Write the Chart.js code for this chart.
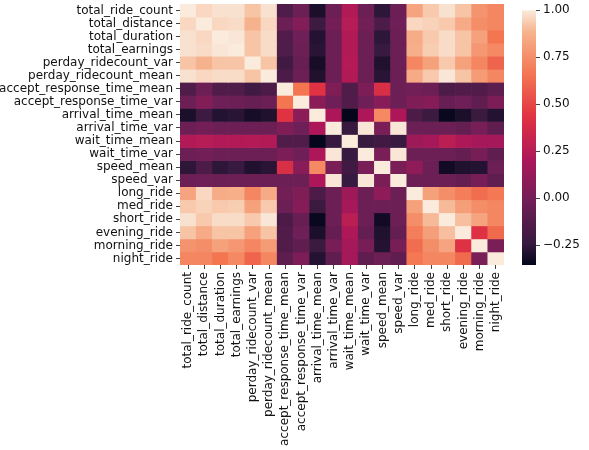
<!DOCTYPE html>
<html><head><meta charset="utf-8">
<script src="https://cdn.jsdelivr.net/npm/chart.js@4.4.0/dist/chart.umd.min.js"></script>
<style>
html,body{margin:0;padding:0;background:#fff;}
#wrap{position:relative;width:589px;height:450px;overflow:hidden;}
</style></head><body>
<div id="wrap">
<div style="position:absolute;left:0;top:0;width:505px;height:450px"><canvas id="heat"></canvas></div>
<div style="position:absolute;left:505px;top:0;width:84px;height:450px"><canvas id="cbar"></canvas></div>
</div>
<script>
const labels = ["total_ride_count","total_distance","total_duration","total_earnings","perday_ridecount_var","perday_ridecount_mean","accept_response_time_mean","accept_response_time_var","arrival_time_mean","arrival_time_var","wait_time_mean","wait_time_var","speed_mean","speed_var","long_ride","med_ride","short_ride","evening_ride","morning_ride","night_ride"];

const r_total_ride_count      = [1, 0.96, 0.98, 0.98, 0.92, 0.98, -0.14, -0.03, -0.30, -0.03, 0.23, -0.03, -0.26, -0.03, 0.83, 0.93, 0.98, 0.92, 0.77, 0.72];
const r_total_distance        = [0.96, 1, 0.96, 0.97, 0.88, 0.96, -0.03, 0.05, -0.21, 0.00, 0.25, -0.01, -0.15, -0.02, 0.96, 0.95, 0.93, 0.85, 0.75, 0.72];
const r_total_duration        = [0.98, 0.96, 1, 0.99, 0.92, 0.97, -0.13, -0.02, -0.28, -0.03, 0.23, -0.03, -0.26, -0.03, 0.86, 0.93, 0.97, 0.92, 0.82, 0.66];
const r_total_earnings        = [0.98, 0.97, 0.99, 1, 0.92, 0.97, -0.14, -0.03, -0.27, -0.03, 0.23, -0.03, -0.23, -0.03, 0.87, 0.94, 0.97, 0.92, 0.78, 0.73];
const r_perday_ridecount_var  = [0.92, 0.88, 0.92, 0.92, 1, 0.92, -0.20, -0.05, -0.31, -0.03, 0.24, -0.03, -0.29, -0.03, 0.72, 0.82, 0.93, 0.82, 0.72, 0.60];
const r_perday_ridecount_mean = [0.98, 0.96, 0.97, 0.97, 0.92, 1, -0.15, -0.03, -0.29, -0.03, 0.23, -0.03, -0.27, -0.03, 0.85, 0.93, 0.99, 0.92, 0.80, 0.72];
const r_accept_time_mean      = [-0.14, -0.03, -0.13, -0.14, -0.20, -0.15, 1, 0.66, 0.43, 0.04, -0.14, 0.03, 0.40, -0.03, -0.01, -0.03, -0.15, -0.13, -0.13, -0.09];
const r_accept_time_var       = [-0.03, 0.05, -0.02, -0.03, -0.05, -0.03, 0.66, 1, 0.08, -0.02, -0.13, -0.02, 0.07, -0.03, 0.04, 0.06, -0.05, -0.02, -0.08, 0.03];
const r_arrival_time_mean     = [-0.30, -0.21, -0.28, -0.27, -0.31, -0.29, 0.43, 0.08, 1, 0.21, -0.35, 0.21, 0.73, 0.21, -0.15, -0.22, -0.34, -0.30, -0.22, -0.28];
const r_arrival_time_var      = [-0.03, 0.00, -0.03, -0.03, -0.03, -0.03, 0.04, -0.02, 0.21, 1, -0.23, 0.99, 0.02, 0.99, -0.03, -0.03, -0.03, -0.06, 0.01, -0.08];
const r_wait_time_mean        = [0.23, 0.25, 0.23, 0.23, 0.24, 0.23, -0.14, -0.13, -0.35, -0.23, 1, -0.23, -0.20, -0.23, 0.15, 0.18, 0.27, 0.22, 0.18, 0.18];
const r_wait_time_var         = [-0.03, -0.01, -0.03, -0.03, -0.03, -0.03, 0.03, -0.02, 0.21, 0.99, -0.23, 1, 0.02, 0.99, -0.03, -0.03, -0.03, -0.06, 0.01, -0.08];
const r_speed_mean            = [-0.26, -0.15, -0.26, -0.23, -0.29, -0.27, 0.40, 0.07, 0.73, 0.02, -0.20, 0.02, 1, 0.02, 0.10, -0.03, -0.32, -0.29, -0.28, -0.03];
const r_speed_var             = [-0.03, -0.02, -0.03, -0.03, -0.03, -0.03, -0.03, -0.03, 0.21, 0.99, -0.23, 0.99, 0.02, 1, -0.03, -0.03, -0.03, -0.06, 0.01, -0.08];
const r_long_ride             = [0.83, 0.96, 0.86, 0.87, 0.72, 0.85, -0.01, 0.04, -0.15, -0.03, 0.15, -0.03, 0.10, -0.03, 1, 0.82, 0.75, 0.69, 0.63, 0.67];
const r_med_ride              = [0.93, 0.95, 0.93, 0.94, 0.82, 0.93, -0.03, 0.06, -0.22, -0.03, 0.18, -0.03, -0.03, -0.03, 0.82, 1, 0.90, 0.81, 0.75, 0.72];
const r_short_ride            = [0.98, 0.93, 0.97, 0.97, 0.93, 0.99, -0.15, -0.05, -0.34, -0.03, 0.27, -0.03, -0.32, -0.03, 0.75, 0.90, 1, 0.91, 0.83, 0.72];
const r_evening_ride          = [0.92, 0.85, 0.92, 0.92, 0.82, 0.92, -0.13, -0.02, -0.30, -0.06, 0.22, -0.06, -0.29, -0.06, 0.69, 0.81, 0.91, 1, 0.42, 0.62];
const r_morning_ride          = [0.77, 0.75, 0.82, 0.78, 0.72, 0.80, -0.13, -0.08, -0.22, 0.01, 0.18, 0.01, -0.28, 0.01, 0.63, 0.75, 0.83, 0.42, 1, 0.02];
const r_night_ride            = [0.72, 0.72, 0.66, 0.73, 0.60, 0.72, -0.09, 0.03, -0.28, -0.08, 0.18, -0.08, -0.03, -0.08, 0.67, 0.72, 0.72, 0.62, 0.02, 1];

const rows = [r_total_ride_count, r_total_distance, r_total_duration, r_total_earnings, r_perday_ridecount_var, r_perday_ridecount_mean, r_accept_time_mean, r_accept_time_var, r_arrival_time_mean, r_arrival_time_var, r_wait_time_mean, r_wait_time_var, r_speed_mean, r_speed_var, r_long_ride, r_med_ride, r_short_ride, r_evening_ride, r_morning_ride, r_night_ride];

const vmin = -0.355, vmax = 1.0;
const cbTicks = [-0.25, 0, 0.25, 0.5, 0.75, 1.0];

// seaborn "rocket" colormap stops
const rocketStops = [
  [0.0, [3,5,26]], [0.083, [53,25,62]], [0.25, [112,31,87]], [0.417, [173,23,89]],
  [0.583, [225,51,66]], [0.75, [243,118,81]], [0.917, [246,180,143]], [1.0, [250,235,221]]
];
function rocket(t) {
  t = Math.max(0, Math.min(1, t));
  for (let k = 1; k < rocketStops.length; k++) {
    const [t1, c1] = rocketStops[k];
    const [t0, c0] = rocketStops[k-1];
    if (t <= t1) {
      const f = (t - t0) / (t1 - t0);
      const c = c0.map((x, i) => Math.round(x + (c1[i] - x) * f));
      return `rgb(${c[0]},${c[1]},${c[2]})`;
    }
  }
  return 'rgb(250,235,221)';
}
const colorOf = v => rocket((v - vmin) / (vmax - vmin));

const FONTSTR = "12px 'DejaVu Sans', sans-serif";
const FONT = {family: "'DejaVu Sans', sans-serif", size: 12};
const TXT = '#111';
const TICKC = '#444';
const TICKLEN = 4;

// draws the category names next to the library's tick positions
const axisLabels = {
  id: 'axisLabels',
  afterDraw(chart) {
    const {ctx} = chart;
    const x = chart.scales.x, y = chart.scales.y;
    ctx.save();
    ctx.font = FONTSTR;
    ctx.fillStyle = TXT;
    ctx.textBaseline = 'middle';
    ctx.textAlign = 'right';
    y.ticks.forEach((t, i) => {
      ctx.fillText(labels[i], y.right - TICKLEN - 3, y.getPixelForValue(t.value));
    });
    labels.forEach((lab, i) => {
      const px = x.getPixelForTick(i);
      ctx.save();
      ctx.translate(px, x.top + TICKLEN + 3);
      ctx.rotate(-Math.PI / 2);
      ctx.textAlign = 'right';
      ctx.fillText(lab, 0, 0);
      ctx.restore();
    });
    ctx.restore();
  }
};

const datasets = rows.map((row, i) => ({
  label: labels[i],
  data: row.map(() => 1),
  backgroundColor: row.map(colorOf),
  borderWidth: 0,
  barPercentage: 1,
  categoryPercentage: 1
}));

new Chart(document.getElementById('heat'), {
  type: 'bar',
  data: {labels: labels, datasets: datasets},
  plugins: [axisLabels],
  options: {
    animation: false,
    responsive: true,
    maintainAspectRatio: false,
    layout: {padding: {top: 4, right: 1, left: 0, bottom: 0}},
    plugins: {legend: {display: false}, tooltip: {enabled: false}},
    scales: {
      x: {
        stacked: true,
        grid: {drawOnChartArea: false, drawTicks: true, tickLength: TICKLEN, offset: false, color: TICKC},
        border: {display: false},
        ticks: {display: false, autoSkip: false},
        afterFit: s => { s.height = 185; }
      },
      y: {
        stacked: true,
        min: 0, max: labels.length,
        reverse: true,
        afterBuildTicks: s => { s.ticks = labels.map((_, i) => ({value: i + 0.5})); },
        ticks: {display: false, autoSkip: false},
        grid: {drawOnChartArea: false, drawTicks: true, tickLength: TICKLEN, color: TICKC},
        border: {display: false},
        afterFit: s => { s.width = 180; }
      }
    }
  }
});

new Chart(document.getElementById('cbar'), {
  type: 'bar',
  data: {labels: [''], datasets: [{
    data: [[vmin, vmax]],
    borderWidth: 0,
    barPercentage: 1,
    categoryPercentage: 1,
    backgroundColor: ctx => {
      const area = ctx.chart.chartArea;
      if (!area) return '#000';
      const g = ctx.chart.ctx.createLinearGradient(0, area.bottom, 0, area.top);
      rocketStops.forEach(([t, c]) => g.addColorStop(t, `rgb(${c[0]},${c[1]},${c[2]})`));
      return g;
    }
  }]},
  options: {
    animation: false,
    responsive: true,
    maintainAspectRatio: false,
    layout: {padding: {left: 17, top: 4, bottom: 185, right: 0}},
    plugins: {legend: {display: false}, tooltip: {enabled: false}},
    scales: {
      x: {display: false},
      y: {
        position: 'right',
        min: vmin, max: vmax,
        afterBuildTicks: s => { s.ticks = cbTicks.map(v => ({value: v})); },
        ticks: {font: FONT, color: TXT, padding: 3,
                callback: v => (v < 0 ? '\u2212' : '') + Math.abs(v).toFixed(2)},
        grid: {drawOnChartArea: false, drawTicks: true, tickLength: TICKLEN, color: TICKC},
        border: {display: false},
        afterFit: s => { s.width = 53; }
      }
    }
  }
});
</script>
</body></html>
